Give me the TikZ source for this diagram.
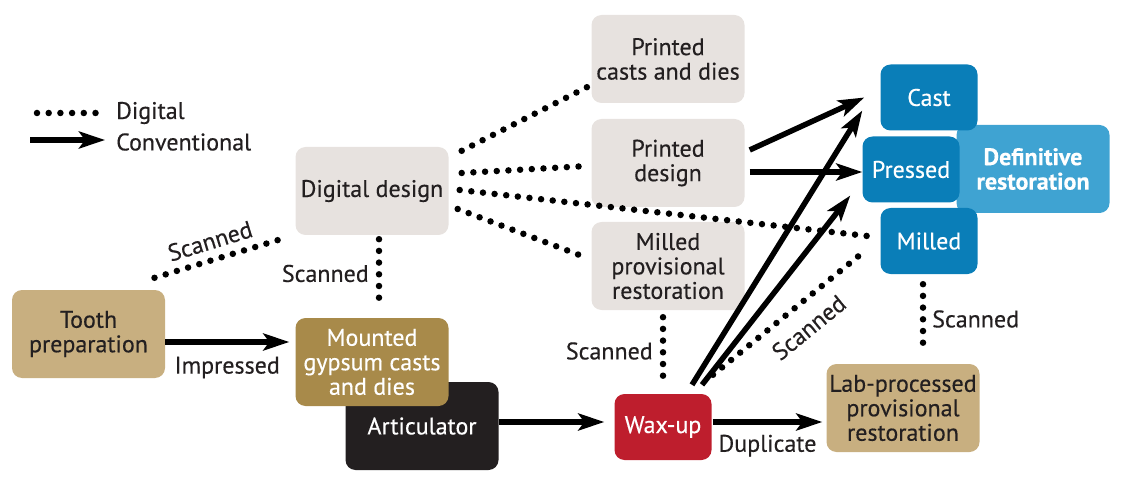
\documentclass[tikz,border=0pt]{standalone}
\usepackage{fontspec}
\setmainfont{PT Sans}[FakeBold=0.35]
\usetikzlibrary{arrows.meta,calc}
\definecolor{txt}{HTML}{231F20}
\definecolor{cGrey}{HTML}{E7E2DF}
\definecolor{cTan}{HTML}{C8AF80}
\definecolor{cGold}{HTML}{A88A4A}
\definecolor{cDark}{HTML}{231F20}
\definecolor{cRed}{HTML}{BE1E2D}
\definecolor{cBlue}{HTML}{0A7EB8}
\definecolor{cLightBlue}{HTML}{3FA3D2}
\newcommand{\bigf}{\fontsize{24}{24.5}\selectfont}
\begin{document}
\begin{tikzpicture}[x=1pt,y=-1pt, font=\bigf, text=txt,
 box/.style={rounded corners=10pt, align=center, inner sep=0pt, minimum width=153pt, minimum height=88pt},
 smallbox/.style={box, minimum width=97pt, minimum height=66pt, fill=cBlue, text=white},
 conv/.style={line width=5.5pt, -{Stealth[length=26pt,width=17pt,inset=6pt]}},
 digi/.style={line width=6.5pt, line cap=round, dash pattern=on 0pt off 11.7pt},
 lbl/.style={inner sep=0pt, text=txt, font=\bigf}
]
\useasboundingbox (0,0) rectangle (1127,489);
% boxes
\node[box, fill=cGrey] (dd) at (372,191) {Digital design};
\node[box, fill=cGrey] (pcd) at (668,59) {Printed\\casts and dies};
\node[box, fill=cGrey] (pd) at (668,163) {Printed\\design};
\node[box, fill=cGrey] (mpr) at (668,266) {Milled\\provisional\\restoration};
\node[box, fill=cTan] (tooth) at (88.5,334) {Tooth\\preparation};
\node[box, fill=cDark, text=white] (artic) at (422,426) {Articulator};
\node[box, fill=cGold, text=white] (mount) at (372,362) {Mounted\\gypsum casts\\and dies};
\node[box, fill=cRed, text=white, minimum width=97pt, minimum height=66pt] (wax) at (663,427) {Wax-up};
\node[box, fill=cTan] (lab) at (903,408) {Lab-processed\\provisional\\restoration};
\node[box, fill=cLightBlue, text=white, font=\bigf\bfseries] (def) at (1033,169) {Definitive\\restoration};
\node[smallbox] (cast) at (929,97.5) {Cast};
\node[smallbox] (pressed) at (911,169.5) {Pressed};
\node[smallbox] (milled) at (929,241) {Milled};
% legend
\coordinate (ld1) at (37,113);
\coordinate (lc1) at (30,140);
\node[lbl, anchor=west] (ldig) at (116,113) {Digital};
\node[lbl, anchor=west] (lconv) at (116,142) {Conventional};
\draw[digi] (ld1) -- ($(ldig.west)+(-9,0)$);
\draw[conv] (lc1) -- ($(lconv.west)+(-11,-2)$);
% digital connectors
\draw[digi] ($(tooth.north)+(66,-12)$) -- ($(dd.south west)+(-8,2)$)
  node[lbl, pos=0.46, sloped, above=7pt] {Scanned};
\draw[digi] ($(dd.south)+(7,4)$) -- ($(mount.north)+(7,-10)$)
  node[lbl, midway, left=7pt] {Scanned};
\draw[digi] ($(dd.north east)+(13,4)$) -- ($(pcd.west)+(-4,28)$);
\draw[digi] ($(dd.east)+(13,-18)$) -- ($(pd.west)+(-4,3)$);
\draw[digi] ($(dd.east)+(11,-1)$) -- ($(milled.west)+(-13,-5)$);
\draw[digi] ($(dd.east)+(9,18)$) -- ($(mpr.west)+(-4,-8)$);
\draw[digi] ($(mpr.south)+(-5,7)$) -- ($(wax.north)+(0,-9)$)
  node[lbl, midway, left=7pt] {Scanned};
\draw[digi] ($(wax.north)+(50,-19)$) -- ($(milled.west)+(-18,12)$)
  node[lbl, pos=0.54, sloped, below=12pt] {Scanned};
\draw[digi] ($(milled.south)+(-6,10)$) -- ($(lab.north)+(20,-10)$)
  node[lbl, midway, right=6pt] {Scanned};
% conventional connectors
\draw[conv] ($(tooth.east)+(0,8)$) -- ($(mount.west)+(-6,-20)$)
  node[lbl, midway, below=12pt] {Impressed};
\draw[conv] ($(artic.east)+(0,-4)$) -- ($(wax.west)+(-10,-5)$);
\draw[conv] ($(wax.east)+(1,-5)$) -- ($(lab.west)+(-4,14)$)
  node[lbl, midway, below=10pt] {Duplicate};
\draw[conv] ($(pd.east)+(5,-13)$) -- ($(cast.west)+(-16,0)$);
\draw[conv] ($(pd.east)+(5,9)$) -- ($(pressed.west)+(0,2.5)$);
\draw[conv] ($(wax.north)+(29,-9)$) -- ($(cast.west)+(-18,13)$);
\draw[conv] ($(wax.north)+(39,-9)$) -- ($(pressed.west)+(-12,26)$);
\end{tikzpicture}
\end{document}
